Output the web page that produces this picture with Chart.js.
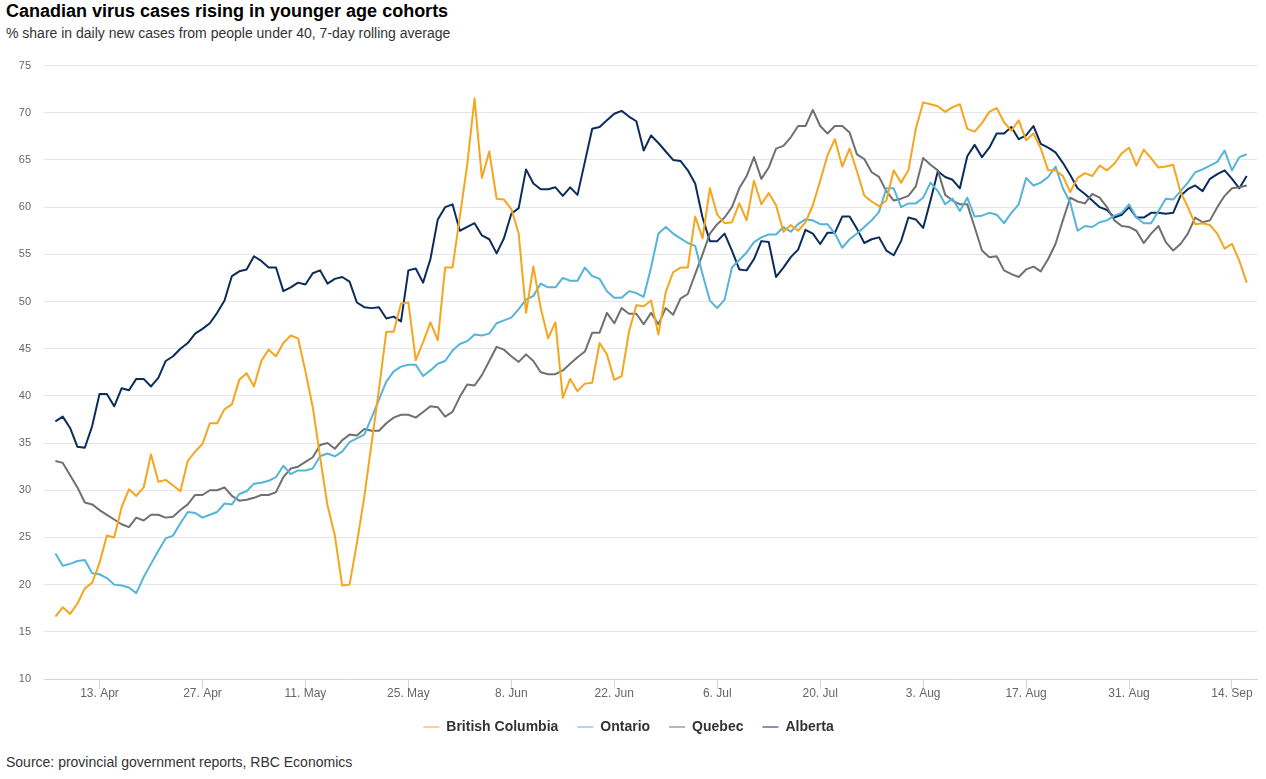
<!DOCTYPE html>
<html>
<head>
<meta charset="utf-8">
<script src="https://cdn.jsdelivr.net/npm/chart.js@4.4.0/dist/chart.umd.min.js"></script>
<style>
  body { margin: 0; background: #fff; font-family: "Liberation Sans", Arial, sans-serif; }
  #wrap { position: relative; width: 1266px; height: 779px; }
  #title { position: absolute; left: 6px; top: 1px; font-size: 18px; font-weight: bold; color: #000; }
  #sub { position: absolute; left: 6px; top: 25px; font-size: 14px; color: #333; }
  #source { position: absolute; left: 6px; top: 754px; font-size: 14px; color: #333; }
  #box { position: absolute; left: 0; top: 46px; width: 1266px; height: 704px; }
</style>
</head>
<body>
<div id="wrap">
  <div id="title">Canadian virus cases rising in younger age cohorts</div>
  <div id="sub">% share in daily new cases from people under 40, 7-day rolling average</div>
  <div id="box"><canvas id="myChart"></canvas></div>
  <div id="source">Source: provincial government reports, RBC Economics</div>
</div>
<script>
// daily values from 7 Apr 2020 to 16 Sep 2020
const bc = [
  16.6, 17.6, 16.9, 18.0, 19.6, 20.2, 22.3, 25.2, 25.0, 28.2, 30.1, 29.4, 30.3, 33.8, 30.9, 31.1, 30.5, 29.9, 33.1, 34.1,
  34.9, 37.1, 37.1, 38.6, 39.1, 41.7, 42.4, 41.0, 43.7,
  44.9, 44.2, 45.6, 46.4, 46.1, 42.6, 38.8, 33.5, 28.4, 25.2, 19.9, 20.0, 24.4, 29.3, 35.0, 40.7, 46.8, 46.8, 49.8, 49.9,
  43.8, 45.7, 47.8, 45.9, 53.6, 53.6, 59.0, 64.5,
  71.5, 63.1, 65.9, 60.9, 60.8, 59.8, 57.2, 48.8, 53.7, 49.3, 46.1, 47.8, 39.8, 41.8, 40.5, 41.3, 41.4, 45.6, 44.4, 41.7,
  42.1, 46.8, 49.6, 49.5, 50.1, 46.5, 51.0, 53.1, 53.6,
  53.6, 59.0, 56.7, 62.0, 59.2, 58.3, 58.4, 60.4, 58.6, 62.8, 60.3, 61.5, 60.2, 57.4, 58.1, 57.5, 58.4, 60.2, 62.8, 65.5,
  67.2, 64.3, 66.2, 63.8, 61.2, 60.6, 60.1, 60.7,
  63.9, 62.6, 63.9, 68.3, 71.1, 70.9, 70.7, 70.1, 70.6, 70.9, 68.3, 68.0, 68.9, 70.1, 70.5, 69.0, 68.1, 69.2, 67.1, 67.8,
  66.2, 63.9, 63.9, 63.3, 61.6, 63.1,
  63.6, 63.3, 64.4, 63.9, 64.6, 65.7, 66.3, 64.4, 66.1, 65.2, 64.2, 64.3, 64.5, 61.6, 60.0, 58.2, 58.3, 58.1, 57.2, 55.6,
  56.1, 54.3, 52.0
];
const ontario = [
  23.3, 22.0, 22.2, 22.5, 22.6, 21.2, 21.1, 20.7, 20.0, 19.9, 19.7, 19.1, 20.8, 22.2, 23.6, 24.9, 25.2, 26.5, 27.7, 27.6,
  27.1, 27.4, 27.7, 28.6, 28.5, 29.6, 29.9, 30.7, 30.8,
  31.0, 31.4, 32.6, 31.7, 32.1, 32.1, 32.3, 33.6, 33.9, 33.6, 34.1, 35.1, 35.5, 35.9, 37.7, 39.6, 41.5, 42.6, 43.1, 43.3,
  43.3, 42.1, 42.7, 43.4, 43.7, 44.8, 45.5, 45.8,
  46.5, 46.4, 46.6, 47.7, 48.0, 48.3, 49.2, 50.2, 50.6, 51.9, 51.5, 51.5, 52.5, 52.2, 52.2, 53.6, 52.7, 52.4, 51.1, 50.4,
  50.4, 51.1, 50.9, 50.5, 53.6, 57.2, 57.9, 57.2, 56.7,
  56.2, 55.9, 52.9, 50.1, 49.3, 50.2, 53.6, 54.4, 55.2, 56.3, 56.8, 57.1, 57.1, 57.9, 57.4, 58.2, 58.7, 58.6, 58.2, 58.2,
  57.2, 55.7, 56.6, 57.2, 57.9, 58.6, 59.5, 62.0,
  62.0, 60.0, 60.4, 60.4, 61.0, 62.6, 61.7, 60.3, 60.9, 59.6, 61.0, 59.0, 59.1, 59.4, 59.2, 58.3, 59.4, 60.3, 63.1, 62.3,
  62.6, 63.2, 64.3, 62.0, 60.5, 57.5,
  58.0, 57.9, 58.4, 58.6, 59.1, 59.4, 60.3, 58.9, 58.3, 58.3, 59.6, 60.9, 60.8, 61.7, 62.6, 63.7, 64.0, 64.4, 64.8, 66.0,
  63.9, 65.3, 65.6
];
const quebec = [
  33.1, 32.9, 31.6, 30.3, 28.7, 28.5, 27.9, 27.4, 26.9, 26.4, 26.1, 27.1, 26.8, 27.4, 27.4, 27.1, 27.2, 27.9, 28.5, 29.5,
  29.5, 30.0, 30.0, 30.3, 29.4, 28.9, 29.0, 29.2, 29.5,
  29.5, 29.8, 31.4, 32.3, 32.5, 33.0, 33.5, 34.8, 35.0, 34.4, 35.3, 35.9, 35.8, 36.5, 36.3, 36.3, 37.1, 37.7, 38.0, 38.0,
  37.7, 38.3, 38.9, 38.8, 37.8, 38.3, 39.9, 41.2,
  41.1, 42.2, 43.7, 45.2, 44.9, 44.2, 43.6, 44.4, 43.7, 42.5, 42.3, 42.3, 42.7, 43.4, 44.1, 44.7, 46.7, 46.7, 48.8, 47.7,
  49.3, 48.7, 48.7, 47.6, 48.8, 47.6, 49.3, 48.6, 50.3,
  50.8, 52.9, 55.0, 57.2, 58.2, 58.9, 60.0, 62.0, 63.3, 65.3, 63.0, 64.2, 66.2, 66.5, 67.4, 68.6, 68.6, 70.3, 68.6, 67.8,
  68.6, 68.6, 67.9, 65.6, 65.1, 63.7, 63.2, 61.7,
  60.7, 60.9, 61.2, 62.2, 65.2, 64.5, 63.9, 61.3, 60.7, 60.3, 60.3, 57.9, 55.4, 54.7, 54.8, 53.3, 52.9, 52.6, 53.4, 53.7,
  53.2, 54.5, 56.1, 58.6, 61.0, 60.6,
  60.4, 61.4, 61.0, 60.0, 58.6, 58.0, 57.9, 57.5, 56.2, 57.2, 58.0, 56.3, 55.4, 56.1, 57.2, 58.9, 58.4, 58.6, 60.0, 61.2,
  62.0, 62.1, 62.3
];
const alberta = [
  37.3, 37.8, 36.6, 34.6, 34.5, 36.8, 40.2, 40.2, 38.9, 40.8, 40.6, 41.8, 41.8, 41.0, 41.9, 43.7, 44.2, 45.0, 45.6, 46.6,
  47.1, 47.7, 48.8, 50.1, 52.7, 53.2, 53.4, 54.8, 54.3,
  53.6, 53.6, 51.1, 51.5, 52.0, 51.8, 53.0, 53.3, 51.9, 52.4, 52.6, 52.1, 49.9, 49.4, 49.3, 49.4, 48.2, 48.4, 47.9, 53.3,
  53.5, 52.0, 54.5, 58.7, 60.0, 60.3, 57.5, 57.9,
  58.3, 57.0, 56.6, 55.1, 56.7, 59.3, 59.9, 64.0, 62.5, 61.9, 61.9, 62.1, 61.2, 62.1, 61.3, 64.8, 68.3, 68.5, 69.2, 69.9,
  70.2, 69.6, 69.1, 66.0, 67.6, 66.8, 65.9, 65.0, 64.9,
  63.9, 62.5, 58.9, 56.4, 56.4, 57.2, 55.4, 53.4, 53.3, 54.5, 56.4, 56.3, 52.6, 53.6, 54.7, 55.5, 57.6, 57.2, 56.1, 57.3,
  57.3, 59.0, 59.0, 57.7, 56.2, 56.6, 56.8, 55.4,
  54.9, 56.4, 58.9, 58.7, 57.8, 60.7, 63.8, 63.2, 62.9, 62.0, 65.4, 66.6, 65.3, 66.3, 67.8, 67.8, 68.5, 67.2, 67.6, 68.6,
  66.7, 66.3, 65.8, 64.7, 63.4, 62.0,
  61.4, 60.7, 60.0, 59.7, 58.9, 59.2, 60.0, 58.9, 58.9, 59.4, 59.4, 59.3, 59.4, 61.2, 61.9, 62.3, 61.7, 63.0, 63.5, 63.9,
  63.0, 62.0, 63.3
];

const tickLabels = ['13. Apr', '27. Apr', '11. May', '25. May', '8. Jun', '22. Jun',
                    '6. Jul', '20. Jul', '3. Aug', '17. Aug', '31. Aug', '14. Sep'];
const yTicks = [10, 15, 20, 25, 30, 35, 40, 45, 50, 55, 60, 65, 70, 75];

const months = ['Jan', 'Feb', 'Mar', 'Apr', 'May', 'Jun', 'Jul', 'Aug', 'Sep', 'Oct', 'Nov', 'Dec'];
const dates = [];
for (let i = 0; i < bc.length; i++) {
  const d = new Date(Date.UTC(2020, 3, 7 + i));
  dates.push(d.getUTCDate() + '. ' + months[d.getUTCMonth()]);
}

function toPoints(arr) {
  return arr.map((v, i) => ({ x: i, y: v }));
}

Chart.defaults.font.family = '"Liberation Sans", Arial, sans-serif';

const ctx = document.getElementById('myChart').getContext('2d');
const myChart = new Chart(ctx, {
  type: 'line',
  data: {
    datasets: [
      { label: 'British Columbia', data: toPoints(bc), borderColor: '#F5A51E', backgroundColor: '#F5A51E' },
      { label: 'Ontario', data: toPoints(ontario), borderColor: '#55B4DA', backgroundColor: '#55B4DA' },
      { label: 'Quebec', data: toPoints(quebec), borderColor: '#707070', backgroundColor: '#707070' },
      { label: 'Alberta', data: toPoints(alberta), borderColor: '#0B2D5B', backgroundColor: '#0B2D5B' }
    ]
  },
  options: {
    responsive: true,
    maintainAspectRatio: false,
    animation: false,
    layout: { padding: { top: 11, right: 9, bottom: 6, left: 0 } },
    elements: {
      point: { radius: 0, hoverRadius: 0 },
      line: { borderWidth: 2, tension: 0, borderJoinStyle: 'round' }
    },
    plugins: {
      tooltip: { enabled: false },
      legend: {
        position: 'bottom',
        labels: {
          usePointStyle: true,
          pointStyle: 'line',
          pointStyleWidth: 16,
          padding: 19,
          color: '#333333',
          font: { size: 14, weight: 'bold' }
        }
      }
    },
    scales: {
      x: {
        type: 'linear',
        min: -1.55,
        max: 163.4,
        afterBuildTicks: (scale) => {
          scale.ticks = tickLabels.map(l => ({ value: dates.indexOf(l) }));
        },
        afterFit: (scale) => { scale.height = 22; },
        ticks: {
          autoSkip: false,
          maxRotation: 0,
          padding: -3,
          color: '#666666',
          font: { size: 12 },
          callback: (v) => dates[v]
        },
        grid: {
          drawOnChartArea: false,
          drawTicks: true,
          tickLength: 10,
          color: '#ccd6eb'
        },
        border: { color: '#ccd6eb' }
      },
      y: {
        min: 10,
        max: 75,
        afterBuildTicks: (scale) => {
          scale.ticks = yTicks.map(v => ({ value: v }));
        },
        afterFit: (scale) => { scale.width = 44; },
        ticks: {
          padding: 13,
          color: '#666666',
          font: { size: 11 }
        },
        grid: { color: '#e6e6e6', drawTicks: false },
        border: { display: false }
      }
    }
  }
});
</script>
</body>
</html>
